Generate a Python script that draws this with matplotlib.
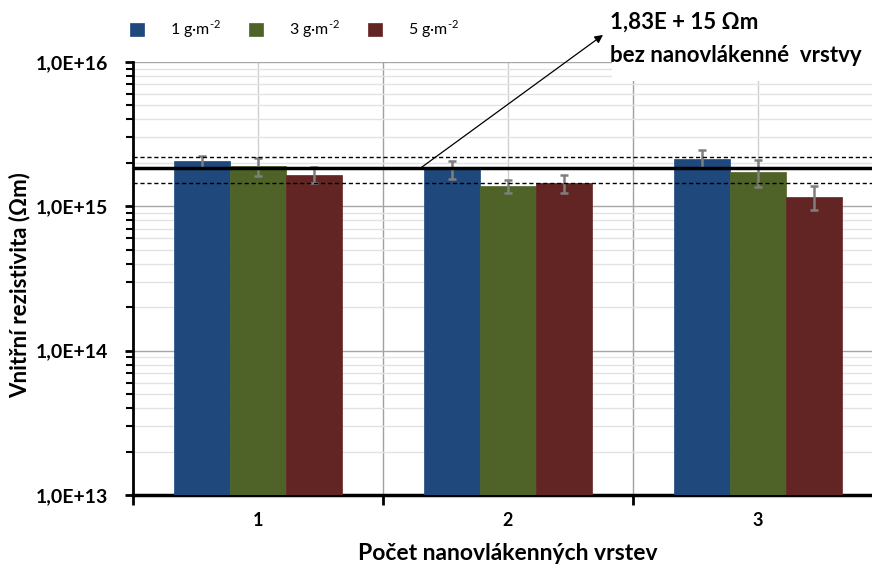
import numpy as np
import matplotlib.pyplot as plt
from matplotlib.patches import Rectangle
from matplotlib.ticker import LogLocator, NullFormatter, FixedLocator

plt.rcParams['font.family'] = ['Lato', 'DejaVu Sans']
plt.rcParams['mathtext.fontset'] = 'custom'
plt.rcParams['mathtext.rm'] = 'Lato'

# data
layers = [1, 2, 3]
series = ['1 g·m$^{\\text{-2}}$', '3 g·m$^{\\text{-2}}$', '5 g·m$^{\\text{-2}}$']
values = [
    [2.05e15, 1.80e15, 2.14e15],   # 1 g/m2
    [1.89e15, 1.38e15, 1.73e15],   # 3 g/m2
    [1.66e15, 1.44e15, 1.16e15],   # 5 g/m2
]
errors = [
    [0.20e15, 0.25e15, 0.30e15],
    [0.27e15, 0.15e15, 0.37e15],
    [0.22e15, 0.21e15, 0.22e15],
]
colors = ['#1F497D', '#4F6228', '#632523']
ref_value = 1.83e15
ref_upper = 2.18e15
ref_lower = 1.44e15
yticks = [1e13, 1e14, 1e15, 1e16]
ytick_labels = ['1,0E+13', '1,0E+14', '1,0E+15', '1,0E+16']

fig = plt.figure(figsize=(8.72, 5.68), dpi=100)
ax = fig.add_axes([133 / 872, 1 - 495 / 568, 750 / 872, 433 / 568])

x = np.array(layers, dtype=float)
w = 0.225
for i in range(3):
    ax.bar(x + (i - 1) * w, values[i], w, color=colors[i], label=series[i],
           zorder=3, edgecolor=colors[i], linewidth=0.5)
    ax.errorbar(x + (i - 1) * w, values[i], yerr=errors[i], fmt='none',
                ecolor='#7f7f7f', elinewidth=1.8, capsize=3, capthick=1.8, zorder=4)

ax.set_yscale('log')
ax.set_ylim(1e13, 1e16)
ax.set_xlim(0.5, 3.5)

# grid
ax.yaxis.set_major_locator(FixedLocator(yticks))
ax.set_yticklabels(ytick_labels, fontsize=14, fontweight='bold')
ax.yaxis.set_minor_locator(LogLocator(base=10, subs=np.arange(2, 10)))
ax.yaxis.set_minor_formatter(NullFormatter())
ax.grid(True, which='major', axis='y', color='#a6a6a6', lw=1, zorder=0.5)
ax.grid(True, which='minor', axis='y', color='#e3e3e3', lw=1, zorder=0.4)
for b in [1.5, 2.5]:
    ax.axvline(b, color='#a0a0a0', lw=1, zorder=0.6)
for c in layers:
    ax.axvline(c, color='#d0d0d0', lw=1, zorder=0.6)

ax.set_xticks([0.5, 1.5, 2.5])
ax.set_xticklabels([])
for c in layers:
    ax.text(c, -0.058, str(c), transform=ax.get_xaxis_transform(),
            ha='center', va='center', fontsize=13, fontweight='bold')

ax.tick_params(axis='y', which='major', length=6, width=2, direction='out', pad=12)
ax.tick_params(axis='y', which='minor', length=5, width=1.5, direction='out')
ax.tick_params(axis='x', length=7, width=2, direction='out')
for s in ['top', 'right']:
    ax.spines[s].set_visible(False)
ax.spines['left'].set_linewidth(2)
ax.spines['bottom'].set_linewidth(2.5)

# reference lines
ax.axhline(ref_value, color='black', lw=2.5, zorder=5)
ax.axhline(ref_upper, color='black', lw=1, ls=(0, (3, 2)), zorder=5)
ax.axhline(ref_lower, color='black', lw=1, ls=(0, (3, 2)), zorder=5)

# white box behind annotation
ax.add_patch(Rectangle((612 / 872, 1 - 81 / 568), 0.4, 81 / 568, transform=fig.transFigure,
                       facecolor='white', edgecolor='none', clip_on=False, zorder=2))
fig.text(610 / 872, 1 - 22 / 568, '1,83E + 15 Ωm', fontsize=16, fontweight='bold',
         ha='left', va='center')
fig.text(610 / 872, 1 - 55 / 568, 'bez nanovlákenné  vrstvy', fontsize=16, fontweight='bold',
         ha='left', va='center')
ax.annotate('', xy=(2.38, 1.54e16), xytext=(1.648, ref_value), annotation_clip=False,
            arrowprops=dict(arrowstyle='-|>', color='black', lw=0.9, mutation_scale=12,
                            shrinkA=0, shrinkB=0), zorder=6)

ax.set_ylabel('Vnitřní rezistivita (Ωm)', fontsize=16, fontweight='bold', va='center')
ax.yaxis.set_label_coords(-(133 - 20) / 750, (495 - 285) / 433)
ax.set_xlabel('Počet nanovlákenných vrstev', fontsize=16.5, fontweight='bold', va='center')
ax.xaxis.set_label_coords((508 - 133) / 750, (495 - 553) / 433)

ax.legend(loc='lower left', bbox_to_anchor=(-0.012, 1.035), ncol=3, frameon=False,
          fontsize=11.5, handlelength=0.85, handleheight=0.85, columnspacing=1.8,
          handletextpad=1.6, borderaxespad=0)

fig.savefig('out.png', dpi=100)
